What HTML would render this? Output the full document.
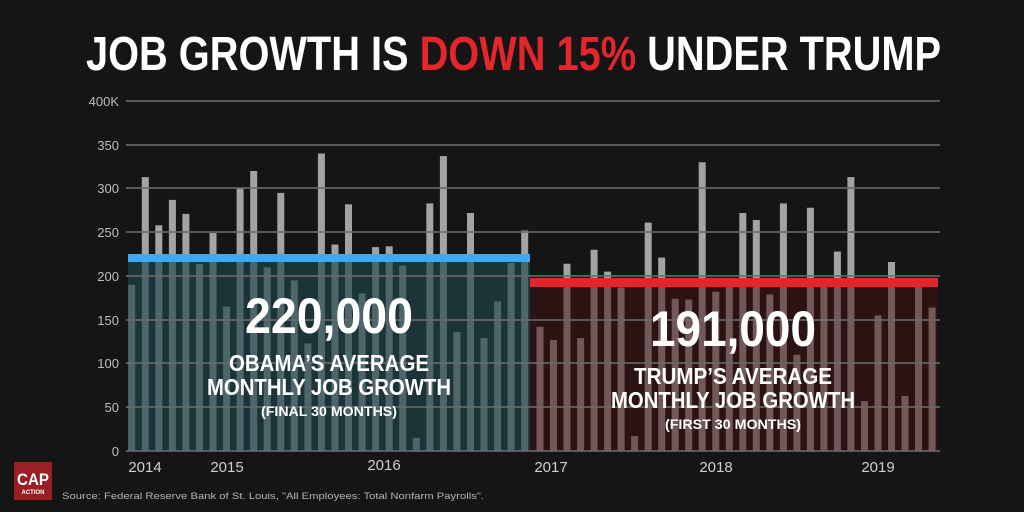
<!DOCTYPE html>
<html><head><meta charset="utf-8"><style>
html,body{margin:0;padding:0;background:#151515;}
svg{display:block;}
text{font-family:"Liberation Sans",sans-serif;}
</style></head><body>
<svg width="1024" height="512" viewBox="0 0 1024 512" xmlns="http://www.w3.org/2000/svg">
<rect width="1024" height="512" fill="#151515"/>
<text x="86" y="70" font-size="48" font-weight="bold" fill="#fff" textLength="855" lengthAdjust="spacingAndGlyphs">JOB GROWTH IS <tspan fill="#e2262b">DOWN 15%</tspan> UNDER TRUMP</text>
<rect x="128" y="258" width="402" height="193" fill="#1c3337"/>
<rect x="530" y="283" width="408" height="168" fill="#2b1314"/>
<g fill="#a3a3a3">
<rect x="141.8" y="177.1" width="7" height="80.9"/>
<rect x="155.3" y="225.3" width="7" height="32.7"/>
<rect x="168.9" y="199.9" width="7" height="58.1"/>
<rect x="182.4" y="213.9" width="7" height="44.1"/>
<rect x="209.5" y="233.1" width="7" height="24.9"/>
<rect x="236.6" y="188.5" width="7" height="69.5"/>
<rect x="250.2" y="171" width="7" height="87"/>
<rect x="277.3" y="192.9" width="7" height="65.1"/>
<rect x="317.9" y="153.5" width="7" height="104.5"/>
<rect x="331.5" y="244.5" width="7" height="13.5"/>
<rect x="345.0" y="204.3" width="7" height="53.7"/>
<rect x="372.1" y="247.1" width="7" height="10.9"/>
<rect x="385.7" y="246.3" width="7" height="11.7"/>
<rect x="426.3" y="203.4" width="7" height="54.6"/>
<rect x="439.9" y="156.1" width="7" height="101.9"/>
<rect x="467.0" y="213" width="7" height="45"/>
<rect x="521.2" y="230.5" width="7" height="27.5"/>
<rect x="563.5" y="263.75" width="7" height="19.25"/>
<rect x="590.6" y="249.75" width="7" height="33.25"/>
<rect x="604.1" y="271.6" width="7" height="11.4"/>
<rect x="644.7" y="222.6" width="7" height="60.4"/>
<rect x="658.2" y="257.6" width="7" height="25.4"/>
<rect x="698.7" y="162.25" width="7" height="120.75"/>
<rect x="739.3" y="213" width="7" height="70"/>
<rect x="752.8" y="220" width="7" height="63"/>
<rect x="779.9" y="203.4" width="7" height="79.6"/>
<rect x="806.9" y="207.75" width="7" height="75.25"/>
<rect x="833.9" y="251.5" width="7" height="31.5"/>
<rect x="847.4" y="177.1" width="7" height="105.9"/>
<rect x="888.0" y="262" width="7" height="21"/>
</g>
<g fill="#4e666b">
<rect x="128.2" y="284.8" width="7" height="166.2"/>
<rect x="141.8" y="258" width="7" height="193"/>
<rect x="155.3" y="258" width="7" height="193"/>
<rect x="168.9" y="258" width="7" height="193"/>
<rect x="182.4" y="258" width="7" height="193"/>
<rect x="196.0" y="263.8" width="7" height="187.2"/>
<rect x="209.5" y="258" width="7" height="193"/>
<rect x="223.1" y="306.6" width="7" height="144.4"/>
<rect x="236.6" y="258" width="7" height="193"/>
<rect x="250.2" y="258" width="7" height="193"/>
<rect x="263.7" y="267.3" width="7" height="183.7"/>
<rect x="277.3" y="258" width="7" height="193"/>
<rect x="290.8" y="280.4" width="7" height="170.6"/>
<rect x="304.4" y="343.4" width="7" height="107.6"/>
<rect x="317.9" y="258" width="7" height="193"/>
<rect x="331.5" y="258" width="7" height="193"/>
<rect x="345.0" y="258" width="7" height="193"/>
<rect x="358.6" y="293.5" width="7" height="157.5"/>
<rect x="372.1" y="258" width="7" height="193"/>
<rect x="385.7" y="258" width="7" height="193"/>
<rect x="399.2" y="265.5" width="7" height="185.5"/>
<rect x="412.8" y="437.9" width="7" height="13.1"/>
<rect x="426.3" y="258" width="7" height="193"/>
<rect x="439.9" y="258" width="7" height="193"/>
<rect x="453.4" y="332" width="7" height="119"/>
<rect x="467.0" y="258" width="7" height="193"/>
<rect x="480.5" y="338.1" width="7" height="112.9"/>
<rect x="494.1" y="301.4" width="7" height="149.6"/>
<rect x="507.6" y="262.9" width="7" height="188.1"/>
<rect x="521.2" y="258" width="7" height="193"/>
</g>
<g fill="#735859">
<rect x="536.5" y="326.75" width="7" height="124.25"/>
<rect x="550.0" y="339.9" width="7" height="111.1"/>
<rect x="563.5" y="283" width="7" height="168"/>
<rect x="577.1" y="338.1" width="7" height="112.9"/>
<rect x="590.6" y="283" width="7" height="168"/>
<rect x="604.1" y="283" width="7" height="168"/>
<rect x="617.6" y="287.4" width="7" height="163.6"/>
<rect x="631.1" y="436.1" width="7" height="14.9"/>
<rect x="644.7" y="283" width="7" height="168"/>
<rect x="658.2" y="283" width="7" height="168"/>
<rect x="671.7" y="298.75" width="7" height="152.25"/>
<rect x="685.2" y="299.6" width="7" height="151.4"/>
<rect x="698.7" y="283" width="7" height="168"/>
<rect x="712.3" y="291.75" width="7" height="159.25"/>
<rect x="725.8" y="283" width="7" height="168"/>
<rect x="739.3" y="283" width="7" height="168"/>
<rect x="752.8" y="283" width="7" height="168"/>
<rect x="766.3" y="294.4" width="7" height="156.6"/>
<rect x="779.9" y="283" width="7" height="168"/>
<rect x="793.4" y="354.75" width="7" height="96.25"/>
<rect x="806.9" y="283" width="7" height="168"/>
<rect x="820.4" y="284.75" width="7" height="166.25"/>
<rect x="833.9" y="283" width="7" height="168"/>
<rect x="847.4" y="283" width="7" height="168"/>
<rect x="861.0" y="401.1" width="7" height="49.9"/>
<rect x="874.5" y="315.4" width="7" height="135.6"/>
<rect x="888.0" y="283" width="7" height="168"/>
<rect x="901.5" y="395.9" width="7" height="55.1"/>
<rect x="915.0" y="284.75" width="7" height="166.25"/>
<rect x="928.6" y="307.5" width="7" height="143.5"/>
</g>
<g stroke="#6a6a6a" stroke-width="2" opacity="0.8">
<line x1="126" x2="940" y1="101" y2="101"/><line x1="126" x2="940" y1="145" y2="145"/>
<line x1="126" x2="940" y1="188" y2="188"/><line x1="126" x2="940" y1="232" y2="232"/>
<line x1="126" x2="940" y1="276" y2="276"/><line x1="126" x2="940" y1="320" y2="320"/>
<line x1="126" x2="940" y1="363" y2="363"/><line x1="126" x2="940" y1="407" y2="407"/>
<line x1="126" x2="940" y1="451" y2="451"/>
</g>
<g font-size="13" fill="#bdbdbd" text-anchor="end">
<text x="119" y="106">400K</text><text x="119" y="150">350</text><text x="119" y="193">300</text>
<text x="119" y="237">250</text><text x="119" y="281">200</text><text x="119" y="325">150</text>
<text x="119" y="368">100</text><text x="119" y="412">50</text><text x="119" y="456">0</text>
</g>
<rect x="128" y="254" width="402" height="8" fill="#3ea8f0"/>
<rect x="530" y="278" width="408" height="9" fill="#e2262b"/>
<g fill="#fff" text-anchor="middle" font-weight="bold">
<text x="329" y="333" font-size="50" textLength="168" lengthAdjust="spacingAndGlyphs">220,000</text>
<text x="329" y="371" font-size="23" textLength="200" lengthAdjust="spacingAndGlyphs">OBAMA’S AVERAGE</text>
<text x="329" y="395" font-size="23" textLength="244" lengthAdjust="spacingAndGlyphs">MONTHLY JOB GROWTH</text>
<text x="329" y="416" font-size="14" textLength="136" lengthAdjust="spacingAndGlyphs">(FINAL 30 MONTHS)</text>
<text x="733" y="346" font-size="50" textLength="166" lengthAdjust="spacingAndGlyphs">191,000</text>
<text x="733" y="384" font-size="23" textLength="198" lengthAdjust="spacingAndGlyphs">TRUMP’S AVERAGE</text>
<text x="733" y="408" font-size="23" textLength="244" lengthAdjust="spacingAndGlyphs">MONTHLY JOB GROWTH</text>
<text x="733" y="429" font-size="14" textLength="136" lengthAdjust="spacingAndGlyphs">(FIRST 30 MONTHS)</text>
</g>
<g font-size="15" fill="#cfcfcf" text-anchor="middle">
<text x="145" y="472">2014</text><text x="227" y="472">2015</text><text x="384" y="470">2016</text>
<text x="551" y="472">2017</text><text x="716" y="472">2018</text><text x="878" y="472">2019</text>
</g>
<rect x="14" y="462" width="38" height="38" fill="#9a1f22"/>
<text x="33" y="485" font-size="17" font-weight="bold" fill="#fff" text-anchor="middle" textLength="32" lengthAdjust="spacingAndGlyphs">CAP</text>
<text x="33" y="494" font-size="6" font-weight="bold" fill="#fff" text-anchor="middle">ACTION</text>
<text x="62" y="499" font-size="9.5" fill="#b5b5b5" textLength="422" lengthAdjust="spacingAndGlyphs">Source: Federal Reserve Bank of St. Louis, "All Employees: Total Nonfarm Payrolls".</text>
</svg>
</body></html>
